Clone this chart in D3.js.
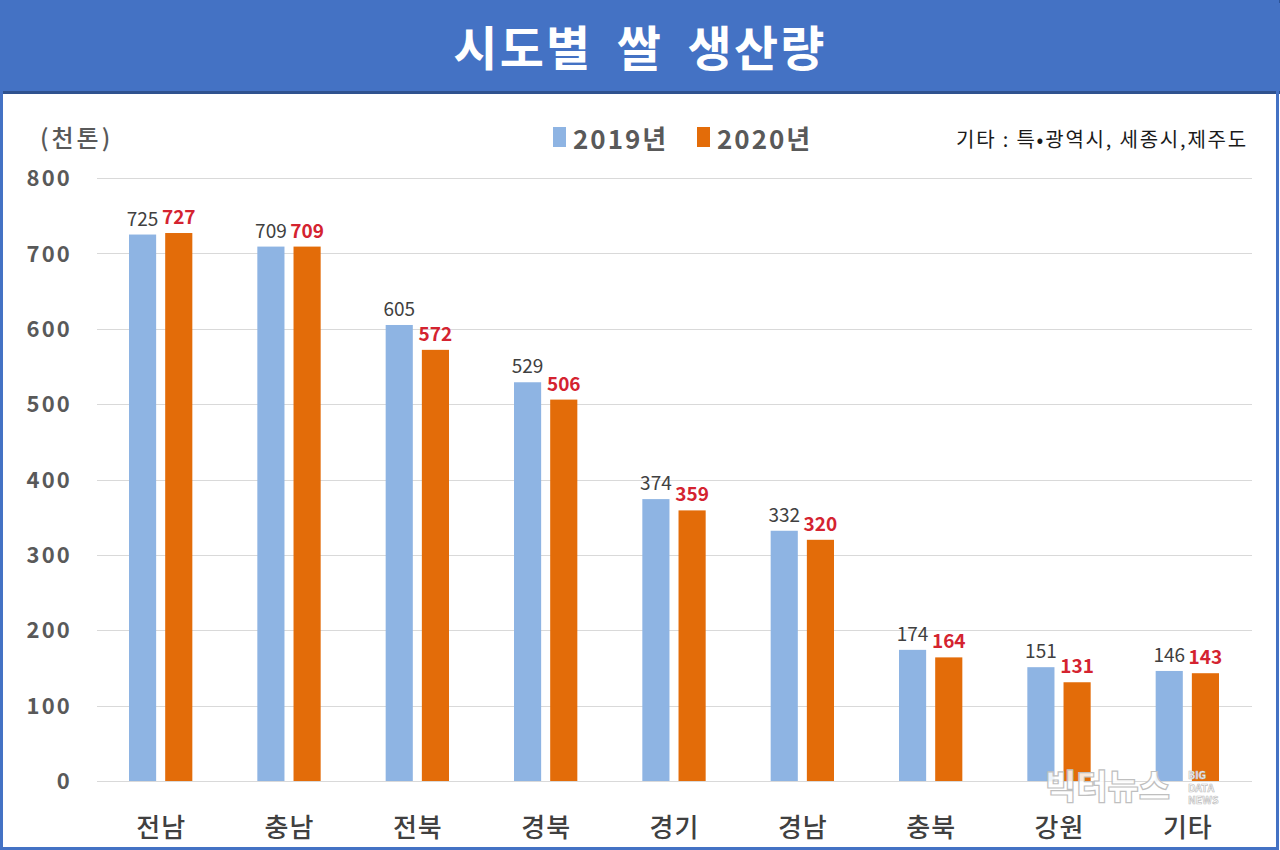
<!DOCTYPE html>
<html>
<head>
<meta charset="utf-8">
<script src="https://cdn.jsdelivr.net/npm/d3@7"></script>
<style>
  html, body { margin: 0; padding: 0; background: #fff; }
  svg text { font-family: "Noto Sans CJK KR", "Noto Sans", sans-serif; }
</style>
</head>
<body>
<svg id="chart" width="1280" height="850"></svg>
<script>
const title = "시도별 쌀 생산량";
const unitLabel = "(천톤)";
const note = "기타 : 특•광역시, 세종시,제주도";
const categories = ["전남", "충남", "전북", "경북", "경기", "경남", "충북", "강원", "기타"];
const seriesNames = ["2019년", "2020년"];
const values2019 = [725, 709, 605, 529, 374, 332, 174, 151, 146];
const values2020 = [727, 709, 572, 506, 359, 320, 164, 131, 143];
const yTicks = [0, 100, 200, 300, 400, 500, 600, 700, 800];
const watermark = "빅터뉴스";
const watermarkSub = ["BIG", "DATA", "NEWS"];

const seriesColor = d3.scaleOrdinal().domain(seriesNames).range(["#8EB4E3", "#E36C09"]);
const labelColor = d3.scaleOrdinal().domain(seriesNames).range(["#404040", "#D42330"]);
const labelWeight = d3.scaleOrdinal().domain(seriesNames).range(["400", "700"]);

const svg = d3.select("#chart");
const W = 1280, H = 850;

// frame & header
svg.append("rect").attr("x", 0).attr("y", 0).attr("width", W).attr("height", H).attr("fill", "#fff");
svg.append("rect").attr("x", 0).attr("y", 0).attr("width", W).attr("height", 93).attr("fill", "#4472C4");
svg.append("rect").attr("x", 0).attr("y", 0).attr("width", W).attr("height", 3).attr("fill", "#2F5597");
svg.append("rect").attr("x", 0).attr("y", 91).attr("width", W).attr("height", 3).attr("fill", "#2F528F");
svg.append("rect").attr("x", 1.5).attr("y", 1.5).attr("width", W - 4).attr("height", H - 3)
  .attr("fill", "none").attr("stroke", "#4472C4").attr("stroke-width", 3);

svg.append("text").attr("x", 640).attr("y", 66).attr("text-anchor", "middle")
  .attr("fill", "#fff").attr("font-size", 48).attr("font-weight", 700)
  .attr("word-spacing", 11).attr("letter-spacing", 2.3)
  .text(title);

// scales
const x = d3.scaleBand().domain(categories).range([97, 1252]).paddingInner(0).paddingOuter(0);
const xs = d3.scaleBand().domain(seriesNames).range([32, x.bandwidth() - 33]).paddingInner(0.25);
const y = d3.scaleLinear().domain([0, 800]).range([781, 178]);

// gridlines
const grid = svg.append("g").attr("class", "grid");
grid.selectAll("line").data(yTicks).join("line")
  .attr("x1", 97).attr("x2", 1252)
  .attr("y1", d => Math.round(y(d)) + 0.5).attr("y2", d => Math.round(y(d)) + 0.5)
  .attr("stroke", "#D9D9D9").attr("stroke-width", 1.2);

// y axis labels via d3 axis
const yAxis = d3.axisLeft(y).tickValues(yTicks).tickSize(0).tickPadding(0);
const yg = svg.append("g").attr("transform", "translate(72,0)").call(yAxis);
yg.select(".domain").remove();
yg.selectAll("text").attr("fill", "#595959").attr("font-size", 22).attr("font-weight", 700)
  .attr("letter-spacing", 2.2)
  .attr("font-family", "'Noto Sans CJK KR', sans-serif").attr("dy", "0.35em");

// x axis labels
const xAxis = d3.axisBottom(x).tickSize(0).tickPadding(0);
const xg = svg.append("g").attr("transform", "translate(0,837)").call(xAxis);
xg.select(".domain").remove();
xg.selectAll("text").attr("fill", "#404040").attr("font-size", 26).attr("font-weight", 500)
  .attr("font-family", "'Noto Sans CJK KR', sans-serif").attr("dy", 0).attr("letter-spacing", 1);

// bars
const data = categories.map((c, i) => ({ cat: c, vals: [
  { s: seriesNames[0], v: values2019[i] },
  { s: seriesNames[1], v: values2020[i] }
]}));

const groups = svg.append("g").selectAll("g").data(data).join("g")
  .attr("transform", d => `translate(${x(d.cat)},0)`);

groups.selectAll("rect").data(d => d.vals).join("rect")
  .attr("x", d => xs(d.s)).attr("width", xs.bandwidth())
  .attr("y", d => y(d.v)).attr("height", d => y(0) - y(d.v))
  .attr("fill", d => seriesColor(d.s));

groups.selectAll("text").data(d => d.vals).join("text")
  .attr("x", d => xs(d.s) + xs.bandwidth() / 2)
  .attr("y", d => y(d.v) - 9)
  .attr("text-anchor", "middle")
  .attr("font-size", 19)
  .attr("font-weight", d => labelWeight(d.s))
  .attr("fill", d => labelColor(d.s))
  .text(d => d.v);

// unit label
svg.append("text").attr("x", 40).attr("y", 147).attr("fill", "#595959")
  .attr("font-size", 24).attr("font-weight", 500).attr("letter-spacing", 3).text(unitLabel);

// legend
const legend = svg.append("g");
const legendX = [553, 697];
seriesNames.forEach((s, i) => {
  legend.append("rect").attr("x", legendX[i]).attr("y", 127).attr("width", 13).attr("height", 20)
    .attr("fill", seriesColor(s));
  legend.append("text").attr("x", legendX[i] + 20).attr("y", 149).attr("fill", "#595959")
    .attr("font-size", 26).attr("font-weight", 700).attr("letter-spacing", 2).text(s);
});

// note
svg.append("text").attr("x", 1248).attr("y", 147).attr("text-anchor", "end")
  .attr("fill", "#1a1a1a").attr("font-size", 20).attr("letter-spacing", 1.8).text(note);

// watermark
svg.append("text").attr("x", 1045).attr("y", 799).attr("fill", "#fff").attr("fill-opacity", 0.85)
  .attr("stroke", "#BFBFBF").attr("stroke-width", 1.2)
  .attr("font-size", 34).attr("font-weight", 900).text(watermark);
watermarkSub.forEach((t, i) => {
  svg.append("text").attr("x", 1188).attr("y", 779 + i * 12.5).attr("fill", "#fff")
    .attr("stroke", "#BFBFBF").attr("stroke-width", 0.7)
    .attr("font-size", 10.5).attr("font-weight", 700).attr("font-family", "'Liberation Sans', sans-serif")
    .text(t);
});
</script>
</body>
</html>
